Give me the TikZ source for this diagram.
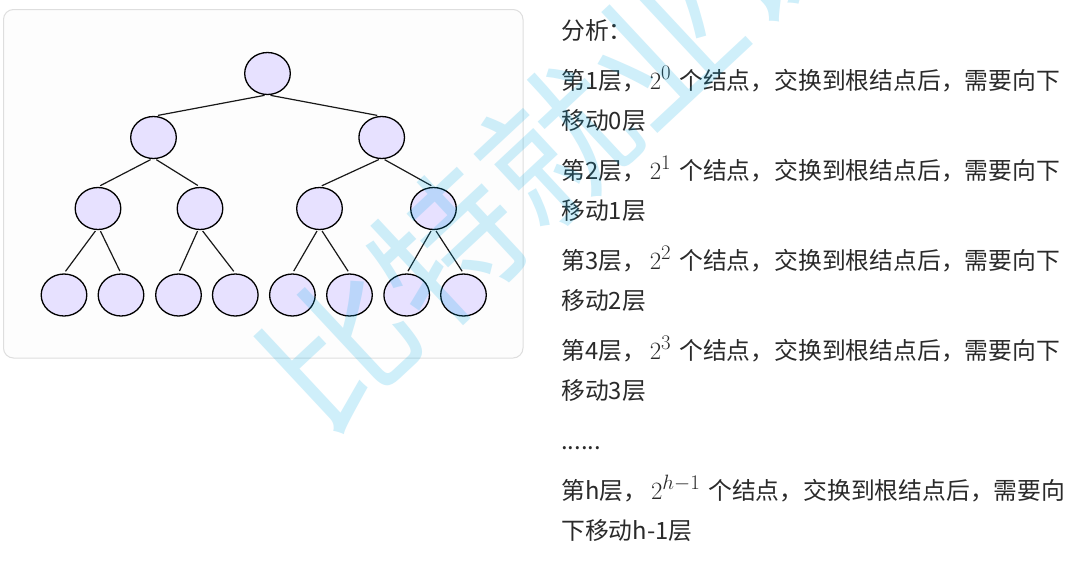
\documentclass[tikz,border=0pt]{standalone}
\usepackage{fontspec}
\setmainfont{Noto Sans CJK SC}
\usetikzlibrary{shapes.geometric}
\definecolor{txt}{HTML}{2A2A2A}
\definecolor{nodefill}{HTML}{E7E1FF}
\definecolor{panelline}{HTML}{DEDEDE}
\definecolor{panelfill}{HTML}{FDFDFD}
\definecolor{wm}{RGB}{0,170,230}
\newcommand{\mth}[1]{{\fontsize{28pt}{28pt}\selectfont$#1$}}
\tikzset{
  tnode/.style={ellipse, draw=black, fill=nodefill, line width=1.3pt,
    minimum width=45.6pt, minimum height=42pt, inner sep=0pt},
  edge/.style={draw=black!90, line width=1.2pt, shorten >=2.5pt, shorten <=1pt},
  para/.style={anchor=base west, inner sep=0pt, text=txt,
    font=\fontsize{23.8pt}{40pt}\selectfont},
  wmark/.style={text=wm, text opacity=0.19, rotate=43, inner sep=0pt,
    font=\fontsize{148pt}{148pt}\selectfont}
}
\begin{document}
\begin{tikzpicture}[x=1pt,y=-1pt]
\useasboundingbox (0,0) rectangle (1092,566);
\fill[white] (0,0) rectangle (1092,566);
% panel
\draw[panelline, fill=panelfill, line width=1pt, rounded corners=10pt]
  (3.5,9.5) rectangle (523,358);
% tree nodes
\node[tnode] (r) at (267.5,73.5) {};
\node[tnode] (a) at (153.5,137.5) {};
\node[tnode] (b) at (381.7,137.5) {};
\node[tnode] (a1) at (98,208.5) {};
\node[tnode] (a2) at (200,208.5) {};
\node[tnode] (b1) at (319.5,208.5) {};
\node[tnode] (b2) at (433.5,208.5) {};
\node[tnode] (c1) at (64,295) {};
\node[tnode] (c2) at (121,295) {};
\node[tnode] (c3) at (178.5,295) {};
\node[tnode] (c4) at (235.3,295) {};
\node[tnode] (c5) at (292.4,295) {};
\node[tnode] (c6) at (349.5,295) {};
\node[tnode] (c7) at (406.7,295) {};
\node[tnode] (c8) at (463.5,295) {};
% edges
\draw[edge] ([xshift=-2pt]r.south) -- ([xshift=2pt]a.north);
\draw[edge] ([xshift=2pt]r.south) -- ([xshift=-2pt]b.north);
\draw[edge] ([xshift=-2pt]a.south) -- (a1.north);
\draw[edge] ([xshift=2pt]a.south) -- (a2.north);
\draw[edge] ([xshift=-2pt]b.south) -- (b1.north);
\draw[edge] ([xshift=2pt]b.south) -- (b2.north);
\draw[edge] ([xshift=-2pt]a1.south) -- (c1.north);
\draw[edge] ([xshift=2pt]a1.south) -- (c2.north);
\draw[edge] ([xshift=-2pt]a2.south) -- (c3.north);
\draw[edge] ([xshift=2pt]a2.south) -- (c4.north);
\draw[edge] ([xshift=-2pt]b1.south) -- (c5.north);
\draw[edge] ([xshift=2pt]b1.south) -- (c6.north);
\draw[edge] ([xshift=-2pt]b2.south) -- (c7.north);
\draw[edge] ([xshift=2pt]b2.south) -- (c8.north);
% text
\node[para] (t0) at (561,39) {分析：};
\node[para] (t1) at (561,89) {第1层，\hspace{4pt}\mth{2^{0}}\hspace{8pt}个结点，交换到根结点后，需要向下};
\node[para] (t1b) at (561,129.5) {移动0层};
\node[para] (t2) at (561,179) {第2层，\hspace{4pt}\mth{2^{1}}\hspace{8pt}个结点，交换到根结点后，需要向下};
\node[para] (t2b) at (561,219.5) {移动1层};
\node[para] (t3) at (561,269) {第3层，\hspace{4pt}\mth{2^{2}}\hspace{8pt}个结点，交换到根结点后，需要向下};
\node[para] (t3b) at (561,309.5) {移动2层};
\node[para] (t4) at (561,359) {第4层，\hspace{4pt}\mth{2^{3}}\hspace{8pt}个结点，交换到根结点后，需要向下};
\node[para] (t4b) at (561,399.5) {移动3层};
\node[para] (t5) at (561,449) {......};
\node[para] (t6) at (561,499) {第h层，\hspace{4pt}\mth{2^{h-1}}\hspace{8pt}个结点，交换到根结点后，需要向};
\node[para] (t6b) at (561,539.5) {下移动h-1层};
% watermark
\node[wmark] (wm) at (556,146) {比特就业课};
\end{tikzpicture}
\end{document}
